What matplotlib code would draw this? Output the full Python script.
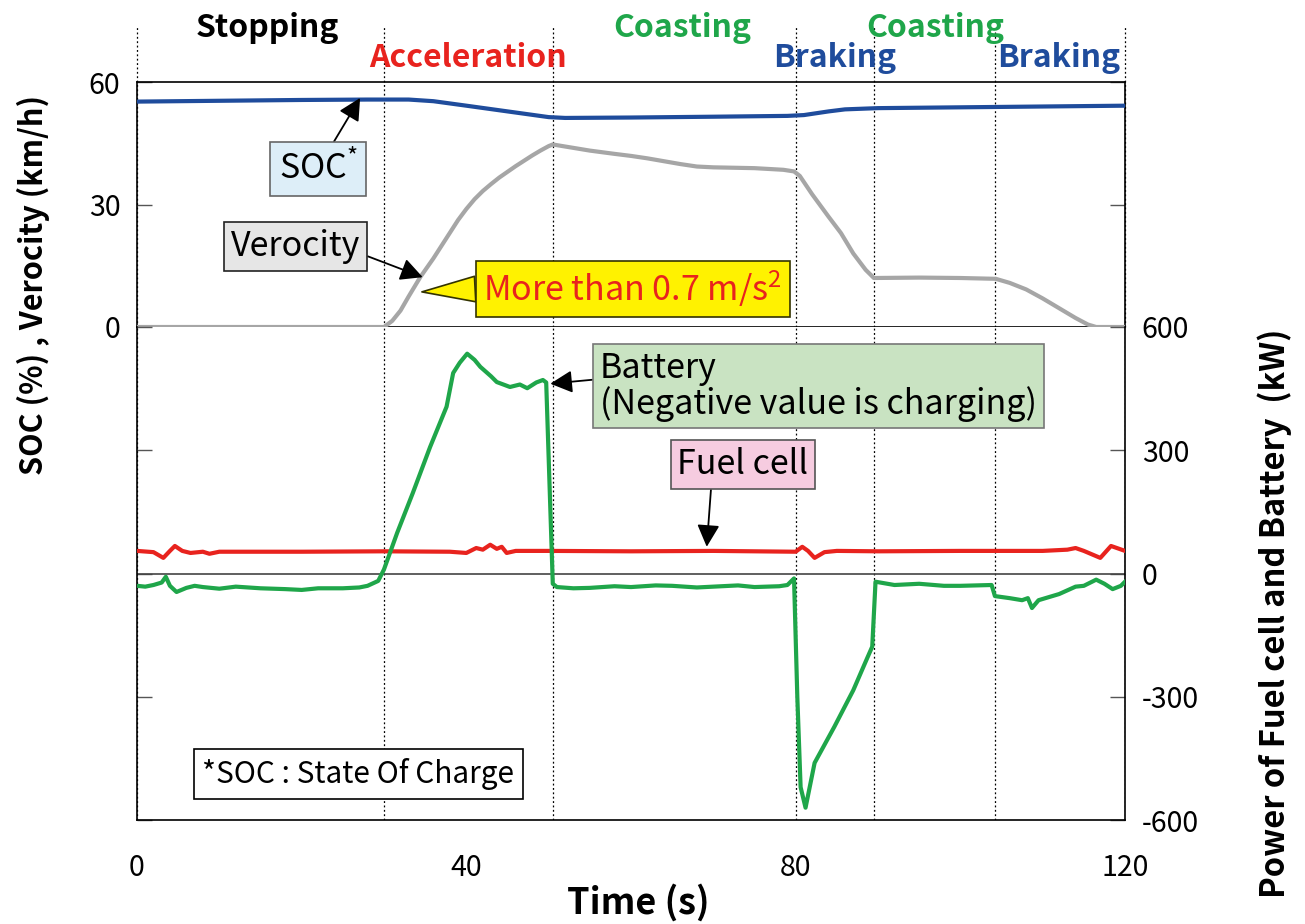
import matplotlib
matplotlib.use("Agg")
import matplotlib.pyplot as plt

plt.rcParams['font.family'] = ['Noto Sans CJK JP', 'DejaVu Sans']
plt.rcParams['mathtext.fontset'] = 'custom'
plt.rcParams['mathtext.rm'] = 'Noto Sans CJK JP'
plt.rcParams['mathtext.it'] = 'Noto Sans CJK JP'
plt.rcParams['mathtext.bf'] = 'Noto Sans CJK JP:bold'
plt.rcParams['axes.unicode_minus'] = False

# ---- data ----
soc_t = [0, 5, 10, 20, 28, 33, 36, 40, 45, 50, 52, 60, 70, 79, 81, 84, 86, 90, 100, 110, 115, 120]
soc_v = [55.2, 55.3, 55.4, 55.6, 55.7, 55.7, 55.3, 54.2, 52.8, 51.4, 51.2, 51.3, 51.5, 51.7,
         51.9, 52.8, 53.3, 53.6, 53.8, 54.0, 54.1, 54.2]

vel_t = [0, 30, 31, 32, 33, 34.4, 36, 37.5, 39, 40, 41, 42, 43, 44, 45, 46, 47, 48, 49, 50,
         50.5, 52, 55, 58, 60, 62, 64, 66, 68, 70, 75, 78.5, 79.8, 80.5, 82, 84, 85.5, 87,
         88.5, 89.5, 95, 100, 104.3, 106, 108, 110, 112, 114, 115.5, 116.5, 120]
vel_v = [0, 0, 1.5, 4, 7.5, 12.2, 16.8, 21.5, 26.2, 28.9, 31.3, 33.3, 35.0, 36.6, 38.0, 39.4,
         40.7, 42.0, 43.2, 44.3, 44.7, 44.2, 43.2, 42.4, 41.9, 41.3, 40.6, 39.9, 39.3, 39.1,
         38.9, 38.5, 38.1, 37, 32.5, 27, 23, 18, 14, 12, 12.1, 12, 11.8, 10.8, 9.2, 7.0, 4.6,
         2.2, 0.6, 0, 0]

bat_t = [0, 1, 2, 3, 3.5, 4, 4.8, 6, 7, 8, 10, 12, 15, 18, 20, 22, 25, 27, 28, 29.3, 30,
         31.6, 33.5, 35.6, 37.6, 38.4, 39.2, 40.1, 41, 41.7, 43, 43.7, 45.3, 46.5, 47.4,
         48.5, 49.3, 49.7, 50.5, 51, 53, 55, 58, 60, 63, 65, 68, 70, 73, 75, 78, 79, 79.8,
         80.2, 80.6, 81.2, 82.3, 84.7, 87, 88.6, 89.3, 89.7, 92, 95, 98, 100, 103.8, 104.2,
         106, 107.5, 108.2, 108.7, 109.5, 112, 114, 115, 116.5, 117.5, 118.5, 119.5, 120]
bat_p = [-30, -32, -28, -22, -8, -30, -45, -35, -30, -33, -37, -32, -36, -38, -40, -36, -36,
         -34, -30, -18, 10, 99, 196, 308, 406, 488, 513, 535, 520, 503, 480, 466, 454, 460,
         451, 465, 471, 465, -25, -33, -36, -35, -31, -33, -29, -30, -34, -32, -29, -33, -31,
         -28, -12, -300, -520, -570, -461, -373, -284, -210, -178, -20, -28, -25, -30, -30,
         -28, -55, -60, -65, -60, -84, -65, -50, -32, -30, -15, -25, -38, -30, -20]

fc_t = [0, 2, 3.2, 4, 4.6, 5.5, 6.5, 8, 8.8, 10, 20, 30, 38, 40, 41.2, 42, 42.9, 43.7,
        44.3, 44.9, 46, 50, 60, 70, 80, 80.8, 81.5, 82.3, 83.5, 85, 90, 100, 110, 113,
        114, 115, 117, 118.3, 119.3, 120]
fc_p = [55, 52, 38, 55, 67, 55, 50, 53, 48, 53, 53, 54, 53, 50, 62, 58, 70, 60,
        65, 50, 55, 55, 54, 55, 53, 65, 55, 38, 52, 55, 54, 55, 55, 58,
        62, 55, 38, 67, 60, 55]

phase_bounds = [0, 30, 50.5, 80, 89.5, 104.2, 120]
phase_names = ['Stopping', 'Acceleration', 'Coasting', 'Braking', 'Coasting', 'Braking']
phase_x = [15.8, 40.2, 66.2, 84.7, 96.9, 111.9]
phase_row = [0, 1, 0, 1, 0, 1]
phase_colors = ['black', '#E8231E', '#1FA64A', '#1F4C9C', '#1FA64A', '#1F4C9C']

RED = '#E8231E'
GREEN = '#1FA64A'
BLUE = '#1F4C9C'
GRAY = '#A6A6A6'

fig = plt.figure(figsize=(13.05, 9.24), dpi=100)
W, H = 1305, 924
x0, x1 = 137, 1125
ax_top = fig.add_axes([x0 / W, 1 - 327 / H, (x1 - x0) / W, 245 / H])
ax_bot = fig.add_axes([x0 / W, 1 - 820 / H, (x1 - x0) / W, 493 / H])

# top panel
ax_top.plot(soc_t, soc_v, color=BLUE, lw=3, zorder=3)
ax_top.plot(vel_t, vel_v, color=GRAY, lw=3, zorder=3)
ax_top.set_xlim(0, 120)
ax_top.set_ylim(0, 60)
ax_top.set_yticks([0, 30, 60])
ax_top.set_xticks([])
ax_top.tick_params(axis='y', direction='in', length=11, width=1, labelsize=20.5,
                   right=True, pad=12, color='#555555')
for s in ax_top.spines.values():
    s.set_linewidth(1.2)

# bottom panel
ax_bot.plot(fc_t, fc_p, color=RED, lw=3, zorder=3)
ax_bot.plot(bat_t, bat_p, color=GREEN, lw=3, zorder=3)
ax_bot.axhline(0, color='#444444', lw=1.2, zorder=2)
ax_bot.set_xlim(0, 120)
ax_bot.set_ylim(-600, 600)
ax_bot.set_yticks([-600, -300, 0, 300, 600])
ax_bot.set_xticks([0, 40, 80, 120])
ax_bot.yaxis.tick_right()
ax_bot.tick_params(axis='y', direction='in', length=11, width=1, labelsize=20.5,
                   left=True, right=True, labelleft=False, labelright=True, pad=12,
                   color='#555555')
ax_bot.tick_params(axis='x', length=0, labelsize=20.5, pad=24)
for s in ax_bot.spines.values():
    s.set_linewidth(1.2)
ax_bot.spines['top'].set_visible(False)

# phase boundaries (dotted, extend above the top panel)
for b in phase_bounds:
    ax_bot.axvline(b, color='black', ls=(0, (1.5, 2)), lw=0.9, zorder=1)
    ax_top.vlines(b, 0, 73.7, color='black', linestyles=(0, (1.5, 2)), lw=0.9,
                  clip_on=False, zorder=1)

for name, xp, row, c in zip(phase_names, phase_x, phase_row, phase_colors):
    ax_top.text(xp, 1.222 if row == 0 else 1.098, name, transform=ax_top.get_xaxis_transform(),
                ha='center', va='center', fontsize=23, fontweight='bold', color=c,
                clip_on=False)

# axis labels
fig.text(33 / W, 1 - 285 / H, 'SOC (%) , Verocity (km/h)', rotation=90, ha='center',
         va='center', fontsize=22, fontweight='bold')
fig.text(1275 / W, 1 - 613 / H, 'Power of Fuel cell and Battery  (kW)', rotation=90,
         ha='center', va='center', fontsize=23.5, fontweight='bold')
fig.text(638 / W, 1 - 903 / H, 'Time (s)', ha='center', va='center', fontsize=26,
         fontweight='bold')

arrow = dict(arrowstyle='-|>,head_length=0.55,head_width=0.28', color='black', lw=1.3,
             shrinkA=0, shrinkB=0)
ann_fs = 24.5

# annotations in the top panel
ax_top.annotate('SOC$^{*}$', xy=(27.1, 56.1), xytext=(22.0, 38.7), fontsize=ann_fs,
                ha='center', va='center',
                bbox=dict(boxstyle='square,pad=0.25', fc='#DDEEF8', ec='#666666', lw=1.2),
                arrowprops=dict(arrow, relpos=(0.63, 1.0)), zorder=5)
ax_top.annotate('Verocity', xy=(34.7, 12.2), xytext=(19.3, 19.7), fontsize=ann_fs,
                ha='center', va='center',
                bbox=dict(boxstyle='square,pad=0.2', fc='#E6E6E6', ec='#222222', lw=1.2),
                arrowprops=dict(arrow, relpos=(1.0, 0.3)), zorder=5)
ax_top.annotate('More than 0.7 m/s$^{2}$', xy=(34.6, 8.6), xytext=(60.2, 9.4),
                fontsize=ann_fs, color=RED, ha='center', va='center',
                bbox=dict(boxstyle='square,pad=0.22', fc='#FFF200', ec='#333300', lw=1.2),
                arrowprops=dict(arrowstyle='wedge,tail_width=0.75,shrink_factor=0.5',
                                fc='#FFF200', ec='#333300', lw=1.2,
                                shrinkA=0, shrinkB=0, relpos=(0.0, 0.5)),
                zorder=5, annotation_clip=False)

# annotations in the bottom panel
ax_bot.annotate('Battery\n(Negative value is charging)', xy=(50.2, 462), xytext=(56.2, 456),
                fontsize=ann_fs, ha='left', va='center', linespacing=1.0,
                bbox=dict(boxstyle='square,pad=0.2', fc='#C9E3C2', ec='#777777', lw=1.2),
                arrowprops=dict(arrow, relpos=(0.0, 0.6)), zorder=5)
ax_bot.annotate('Fuel cell', xy=(69.2, 65), xytext=(73.6, 265), fontsize=ann_fs,
                ha='center', va='center',
                bbox=dict(boxstyle='square,pad=0.2', fc='#F6CCE0', ec='#555555', lw=1.2),
                arrowprops=dict(arrow, relpos=(0.26, 0.0)), zorder=5)
ax_bot.text(26.9, -488, '*SOC : State Of Charge', fontsize=21.5, ha='center', va='center',
            bbox=dict(boxstyle='square,pad=0.3', fc='white', ec='black', lw=1.2), zorder=5)

fig.savefig('out.png', dpi=100)
